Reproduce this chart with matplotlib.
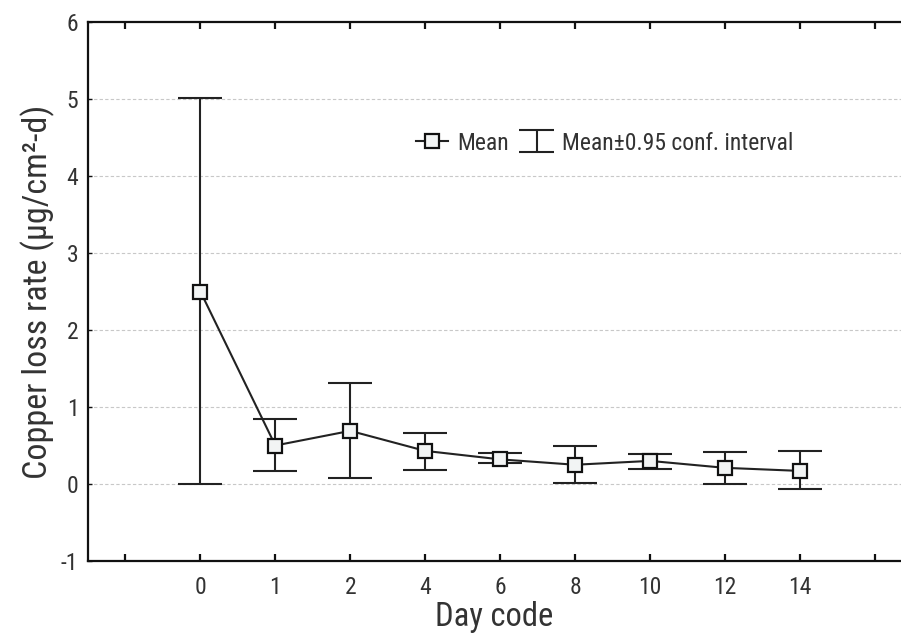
import matplotlib
matplotlib.use("Agg")
import matplotlib.pyplot as plt
from matplotlib import font_manager
from matplotlib.lines import Line2D
from matplotlib.legend_handler import HandlerBase

day_codes = ["0", "1", "2", "4", "6", "8", "10", "12", "14"]
means = [2.50, 0.50, 0.69, 0.43, 0.32, 0.25, 0.30, 0.21, 0.17]
upper = [5.01, 0.84, 1.31, 0.66, 0.40, 0.50, 0.39, 0.42, 0.43]
lower = [0.00, 0.17, 0.08, 0.18, 0.27, 0.01, 0.20, 0.00, -0.07]

names = {f.name for f in font_manager.fontManager.ttflist}
cands = ['Liberation Sans Narrow', 'Arial Narrow', 'Roboto Condensed', 'Pragati Narrow',
         'Archivo Narrow', 'Fira Sans Condensed']
fam = next((c for c in cands if c in names), 'Liberation Sans')
plt.rcParams['font.family'] = [fam, 'DejaVu Sans']
plt.rcParams['axes.unicode_minus'] = False

fig = plt.figure(figsize=(9.01, 6.33), dpi=100)
ax = fig.add_axes([88/901, 1 - 561/633, 1 - 88/901, (561 - 22)/633])

x = list(range(len(day_codes)))
yerr = [[m - l for m, l in zip(means, lower)], [u - m for m, u in zip(means, upper)]]
ax.errorbar(x, means, yerr=yerr, fmt='none', ecolor='#222222', elinewidth=1.5,
            capsize=15.5, capthick=1.5, zorder=3)
ln, = ax.plot(x, means, color='#222222', lw=1.5, marker='s', markersize=10,
              markerfacecolor='#f2f4f4', markeredgecolor='#111111', markeredgewidth=1.6, zorder=4)


class CIHandle:
    pass


class HandlerCI(HandlerBase):
    def create_artists(self, legend, orig_handle, xdescent, ydescent, width, height,
                       fontsize, trans):
        cx = -xdescent + width / 2
        cy = -ydescent + height / 2
        hw = width * 0.55
        hh = height * 0.65
        kw = dict(color='#222222', lw=1.5, transform=trans, solid_capstyle='butt')
        return [Line2D([cx, cx], [cy - hh, cy + hh], **kw),
                Line2D([cx - hw, cx + hw], [cy + hh, cy + hh], **kw),
                Line2D([cx - hw, cx + hw], [cy - hh, cy - hh], **kw)]


ci = CIHandle()

ax.set_xlim(-1.5, 9.35)
ax.set_ylim(-1, 6)
ax.set_yticks(range(-1, 7))
ax.set_xticks(range(-1, 10))
ax.set_xticklabels([""] + day_codes + [""])
for s in ['top', 'bottom', 'left']:
    ax.spines[s].set_linewidth(1.6)
    ax.spines[s].set_color('#111111')
ax.spines['right'].set_visible(False)
ax.tick_params(axis='x', direction='in', top=True, length=5, width=1.6, color='#111111',
               labelsize=17, labelcolor='#333333', pad=11)
ax.tick_params(axis='y', direction='in', length=3, width=1, color='#111111',
               labelsize=17, labelcolor='#333333', pad=7)
for yv in range(0, 6):
    ax.axhline(yv, color='#c8c8c8', lw=0.8, ls=(0, (3, 2)), zorder=1)

ax.set_xlabel("Day code", fontsize=23.5, color='#333333', labelpad=1)
ax.set_ylabel("Copper loss rate (µg/cm²-d)", fontsize=24.5, color='#333333', labelpad=4)

leg = ax.legend([ln, ci], ["Mean", "Mean±0.95 conf. interval"], ncol=2, frameon=False,
                loc='center left', fontsize=17, handlelength=1.35, handletextpad=0.4,
                columnspacing=0.5, handler_map={CIHandle: HandlerCI()})
leg.set_bbox_to_anchor((395/901, 1 - 143/633), transform=fig.transFigure)
for t in leg.get_texts():
    t.set_color('#333333')

fig.savefig("out.png", dpi=100)
